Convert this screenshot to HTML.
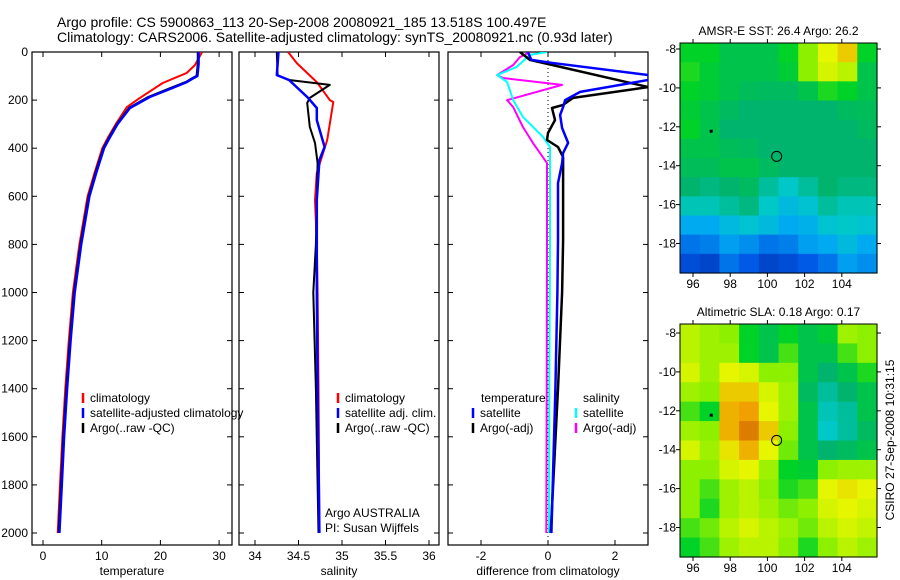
<!DOCTYPE html>
<html><head><meta charset="utf-8">
<style>
body{margin:0;background:#fff;}
svg{display:block;font-family:"Liberation Sans",sans-serif;}
</style></head>
<body>
<svg id="chart" width="900" height="580" xmlns="http://www.w3.org/2000/svg">
<rect width="900" height="580" fill="#fff"/>
<text x="57" y="27" font-size="14">Argo profile: CS 5900863_113 20-Sep-2008 20080921_185 13.518S 100.497E</text>
<text x="57" y="42" font-size="14">Climatology: CARS2006. Satellite-adjusted climatology: synTS_20080921.nc (0.93d later)</text>
<g id="plots"></g>
<text x="325" y="517" font-size="12">Argo AUSTRALIA</text>
<text x="325" y="532" font-size="12">PI: Susan Wijffels</text>
<text transform="translate(894,440) rotate(-90)" text-anchor="middle" font-size="12">CSIRO 27-Sep-2008 10:31:15</text>
</svg>
<script>
// ---- data ----
const tDepth = [0,50,100,110,125,150,187,233,300,350,400,500,600,800,1000,1200,1400,1600,1800,2000];
const tSat   = [26.5,26.5,26.3,25.5,24.5,22.0,18.2,14.8,12.7,11.5,10.4,9.1,7.9,6.5,5.4,4.7,4.1,3.6,3.2,2.8];
const tArgo  = [26.4,26.4,26.2,25.4,24.4,21.8,18.0,14.7,12.6,11.4,10.3,9.0,7.8,6.4,5.3,4.6,4.0,3.5,3.1,2.7];
const tClimDepth = [0,54,87,129,191,229,300,350,400,500,600,800,1000,1200,1400,1600,1800,2000];
const tClim  = [27.1,25.9,24.5,20.4,16.5,14.3,12.4,11.2,10.1,8.8,7.6,6.2,5.1,4.4,3.8,3.3,2.9,2.5];

const sClimDepth = [0,46,125,200,208,366,503,615,800,1000,1400,2000];
const sClim  = [34.38,34.48,34.71,34.86,34.90,34.83,34.71,34.69,34.71,34.72,34.73,34.74];
const sSatDepth = [0,96,116,191,233,283,395,449,615,800,1000,1400,2000];
const sSat   = [34.27,34.25,34.39,34.61,34.71,34.71,34.80,34.74,34.71,34.71,34.71,34.72,34.74];
const sArgoDepth = [0,96,116,137,191,212,312,378,462,615,800,1000,1400,2000];
const sArgo  = [34.25,34.26,34.38,34.86,34.63,34.60,34.63,34.69,34.72,34.71,34.70,34.67,34.70,34.73];

const dTSatDepth = [0,33,45,96,116,166,200,229,262,316,378,420,462,545,782,1000,1400,2000];
const dTSat  = [-0.6,-0.5,0.1,3.0,3.0,0.96,0.51,0.45,0.36,0.42,0.6,0.45,0.42,0.3,0.3,0.28,0.22,0.1];
const dTArgoDepth = [0,33,146,191,220,233,283,337,366,395,437,782,1000,1400,2000];
const dTArgo = [-0.84,-0.54,3.0,0.75,0.45,0.12,0.21,0.0,-0.03,0.3,0.45,0.45,0.42,0.3,0.08];
const dSSatDepth = [0,12,62,96,125,200,270,353,395,782,1400,2000];
const dSSat  = [-0.03,-0.54,-0.93,-1.52,-1.22,-1.04,-0.75,-0.15,0.06,0.06,0.04,0.03];
const dSArgoDepth = [0,21,54,96,108,137,200,229,312,378,462,782,1400,2000];
const dSArgo = [-0.54,-0.84,-1.04,-1.52,-1.34,0.42,-1.22,-1.04,-0.75,-0.45,-0.03,-0.03,-0.04,-0.05];

const depthTicks = [0,200,400,600,800,1000,1200,1400,1600,1800,2000];
const tTicks = [0,10,20,30];
const sTicks = [34,34.5,35,35.5,36];
const sTickLabels = ["34","34.5","35","35.5","36"];
const dTicks = [-2,0,2];

const sstGrid = [
[.6,.6,.55,.55,.55,.6,.7,.8,.85,.6],
[.62,.58,.55,.55,.55,.58,.7,.78,.75,.55],
[.6,.58,.55,.53,.52,.52,.55,.62,.6,.55],
[.58,.55,.52,.5,.5,.5,.5,.5,.52,.53],
[.6,.55,.5,.5,.5,.5,.5,.5,.5,.52],
[.55,.55,.53,.52,.5,.5,.5,.5,.5,.5],
[.53,.53,.55,.55,.52,.5,.5,.5,.5,.5],
[.5,.48,.5,.52,.45,.4,.45,.5,.48,.48],
[.42,.42,.45,.48,.4,.35,.38,.45,.42,.42],
[.3,.3,.35,.38,.35,.3,.32,.38,.4,.38],
[.2,.22,.28,.25,.2,.22,.28,.3,.35,.3],
[.12,.1,.2,.15,.1,.12,.15,.2,.28,.25]];
const slaGrid = [
[.75,.72,.7,.6,.55,.6,.55,.58,.72,.7],
[.75,.72,.72,.6,.55,.65,.55,.55,.65,.7],
[.78,.72,.8,.78,.7,.7,.55,.5,.55,.62],
[.72,.7,.85,.85,.78,.72,.52,.45,.5,.55],
[.65,.6,.88,.9,.8,.72,.55,.42,.45,.55],
[.72,.7,.88,.95,.85,.7,.55,.4,.45,.52],
[.78,.72,.82,.88,.8,.68,.55,.5,.52,.55],
[.7,.7,.78,.8,.72,.6,.58,.7,.72,.72],
[.7,.65,.72,.75,.7,.62,.65,.8,.82,.8],
[.7,.62,.72,.75,.72,.68,.7,.78,.8,.78],
[.65,.68,.75,.78,.75,.72,.68,.75,.78,.76],
[.6,.65,.72,.75,.75,.7,.62,.7,.75,.72]];
const lonTicks = [96,98,100,102,104];
const latTicks = [-8,-10,-12,-14,-16,-18];
const floatLon = 100.497, floatLat = -13.518;

// ---- drawing ----
const NS = "http://www.w3.org/2000/svg";
const root = document.getElementById('plots');
function mk(tag, attrs, parent){const e=document.createElementNS(NS,tag);for(const k in attrs)e.setAttribute(k,attrs[k]);(parent||root).appendChild(e);return e;}
const PT=52, PB=545;
const yD = d => PT + d*0.2405;

function panel(name, x0, x1, xs, ticks, labels, xlabel, showY){
  const g = mk('g',{});
  
  
  const r = mk('rect',{x:x0,y:PT,width:x1-x0,height:PB-PT,fill:'none',stroke:'#000','stroke-width':1.2},g);
  
  
  ticks.forEach((t,i)=>{
    const x=xs(t);
    mk('line',{x1:x,x2:x,y1:PB,y2:PB-5,stroke:'#000'},g);
    mk('line',{x1:x,x2:x,y1:PT,y2:PT+5,stroke:'#000'},g);
    const tx=mk('text',{x:x,y:PB+15,'font-size':12,'text-anchor':'middle'},g);
    tx.textContent=labels[i];
    
    
  });
  depthTicks.forEach(d=>{
    const y=yD(d);
    mk('line',{x1:x0,x2:x0+5,y1:y,y2:y,stroke:'#000'},g);
    mk('line',{x1:x1,x2:x1-5,y1:y,y2:y,stroke:'#000'},g);
    if(showY){const t=mk('text',{x:x0-4,y:y+4,'font-size':12,'text-anchor':'end'},g);t.textContent=d;
      
      }
  });
  const xl=mk('text',{x:(x0+x1)/2,y:575,'font-size':12,'text-anchor':'middle'},g);
  xl.textContent=xlabel;
  
  
  return g;
}
function line(g, name, depths, vals, xs, color, w, x0, x1){
  const cid='clip'+name;
  const cp=mk('clipPath',{id:cid},g); mk('rect',{x:x0,y:PT,width:x1-x0,height:PB-PT},cp);
  const p=mk('polyline',{points:depths.map((d,i)=>xs(vals[i]).toFixed(1)+','+yD(d).toFixed(1)).join(' '),
    fill:'none',stroke:color,'stroke-width':w,'clip-path':'url(#'+cid+')','stroke-linejoin':'round'},g);
  
  
}
function legend(g, x, y, items){
  items.forEach((it,i)=>{
    const yy=y+i*15;
    mk('line',{x1:x,x2:x,y1:yy-5,y2:yy+5,stroke:it[1],'stroke-width':2.5},g);
    const t=mk('text',{x:x+7,y:yy+4,'font-size':12},g);t.textContent=it[0];
    
    
  });
}

// Panel 1 temperature
const xT = v => 43 + v*5.87;
const g1 = panel('temperature-panel',32,232,xT,tTicks,tTicks.map(String),'temperature',true);
line(g1,'temp-climatology',tClimDepth,tClim,xT,'#f00',2,32,232);
line(g1,'temp-argo',tDepth,tArgo,xT,'#000',2.5,32,232);
line(g1,'temp-satellite',tDepth,tSat,xT,'#00f',2.5,32,232);
legend(g1,83,398,[['climatology','#f00'],['satellite-adjusted climatology','#00f'],['Argo(..raw -QC)','#000']]);

// Panel 2 salinity
const xS = v => 255 + (v-34)*87;
const g2 = panel('salinity-panel',239,439,xS,sTicks,sTickLabels,'salinity',false);
line(g2,'sal-climatology',sClimDepth,sClim,xS,'#f00',2,239,439);
line(g2,'sal-argo',sArgoDepth,sArgo,xS,'#000',2,239,439);
line(g2,'sal-satellite',sSatDepth,sSat,xS,'#00f',2.5,239,439);
legend(g2,338,398,[['climatology','#f00'],['satellite adj. clim.','#00f'],['Argo(..raw -QC)','#000']]);

// Panel 3 differences
const xDf = v => 548 + v*33.5;
const g3 = panel('difference-panel',448,648,xDf,dTicks,dTicks.map(String),'difference from climatology',false);
mk('line',{x1:xDf(0),x2:xDf(0),y1:PT,y2:PB,stroke:'#000','stroke-dasharray':'1,3'},g3);
line(g3,'diff-sal-argo',dSArgoDepth,dSArgo,xDf,'#f0f',2,448,648);
line(g3,'diff-sal-satellite',dSSatDepth,dSSat,xDf,'#0ff',2,448,648);
line(g3,'diff-temp-argo',dTArgoDepth,dTArgo,xDf,'#000',2.5,448,648);
line(g3,'diff-temp-satellite',dTSatDepth,dTSat,xDf,'#00f',2.5,448,648);
const h1=mk('text',{x:481,y:402,'font-size':12},g3);h1.textContent='temperature';

const h2=mk('text',{x:583,y:402,'font-size':12},g3);h2.textContent='salinity';

legend(g3,473,413,[['satellite','#00f'],['Argo(-adj)','#000']]);
legend(g3,576,413,[['satellite','#0ff'],['Argo(-adj)','#f0f']]);

// colormap
const stops=[[0,[0,30,150]],[0.15,[0,90,230]],[0.3,[0,170,240]],[0.4,[0,200,200]],[0.5,[0,180,110]],[0.6,[0,210,40]],[0.7,[140,240,0]],[0.8,[230,245,0]],[0.9,[240,160,0]],[1,[200,90,0]]];
function cmap(v){for(let i=1;i<stops.length;i++){if(v<=stops[i][0]){const a=stops[i-1],b=stops[i];const f=(v-a[0])/(b[0]-a[0]);
  return 'rgb('+a[1].map((c,k)=>Math.round(c+(b[1][k]-c)*f)).join(',')+')';}}return 'rgb(200,90,0)';}

function map(name, top, bottom, lat8y, grid, title){
  const g=mk('g',{});
  
  
  const L=680,R=877;
  const xL = lon => 693 + (lon-96)*18.6;
  const yL = lat => lat8y + (-8-lat)*19.45;
  const lon0=(L-693)/18.6+96, lon1=(R-693)/18.6+96;
  const latTop=-8-(top-lat8y)/19.45, latBot=-8-(bottom-lat8y)/19.45;
  const nr=grid.length, nc=grid[0].length;
  const dLon=(lon1-lon0)/nc, dLat=(latTop-latBot)/nr;
  grid.forEach((row,r)=>row.forEach((v,c)=>{
    const xa=xL(lon0+c*dLon), xb=xL(lon0+(c+1)*dLon), ya=yL(latTop-r*dLat), yb=yL(latTop-(r+1)*dLat);
    const cell=mk('rect',{x:xa,y:ya,width:xb-xa+0.6,height:yb-ya+0.6,fill:cmap(v)},g);
    
    
  }));
  const fr=mk('rect',{x:L,y:top,width:R-L,height:bottom-top,fill:'none',stroke:'#000'},g);
  
  
  lonTicks.forEach(lo=>{const x=xL(lo);
    mk('line',{x1:x,x2:x,y1:bottom,y2:bottom+4,stroke:'#000'},g);
    mk('line',{x1:x,x2:x,y1:top,y2:top-4,stroke:'#000'},g);
    const t=mk('text',{x:x,y:bottom+15,'font-size':12,'text-anchor':'middle'},g);t.textContent=lo;
    
    });
  latTicks.forEach(la=>{const y=yL(la);
    mk('line',{x1:L,x2:L-4,y1:y,y2:y,stroke:'#000'},g);
    mk('line',{x1:R,x2:R+4,y1:y,y2:y,stroke:'#000'},g);
    const t=mk('text',{x:L-4,y:y+4,'font-size':12,'text-anchor':'end'},g);t.textContent=la;
    
    });
  const c=mk('circle',{cx:xL(floatLon),cy:yL(floatLat),r:5,fill:'none',stroke:'#000'},g);
  
  
  mk('rect',{x:xL(96.9),y:yL(-12.15),width:3,height:3,fill:'#000'},g);
  const tt=mk('text',{x:(L+R)/2,y:top-8,'font-size':12,'text-anchor':'middle'},g);tt.textContent=title;
  
  
}
map('sst-map',43,273,49,sstGrid,'AMSR-E SST: 26.4  Argo: 26.2');
map('sla-map',324,557,333,slaGrid,'Altimetric SLA: 0.18  Argo: 0.17');
</script>
</body></html>
